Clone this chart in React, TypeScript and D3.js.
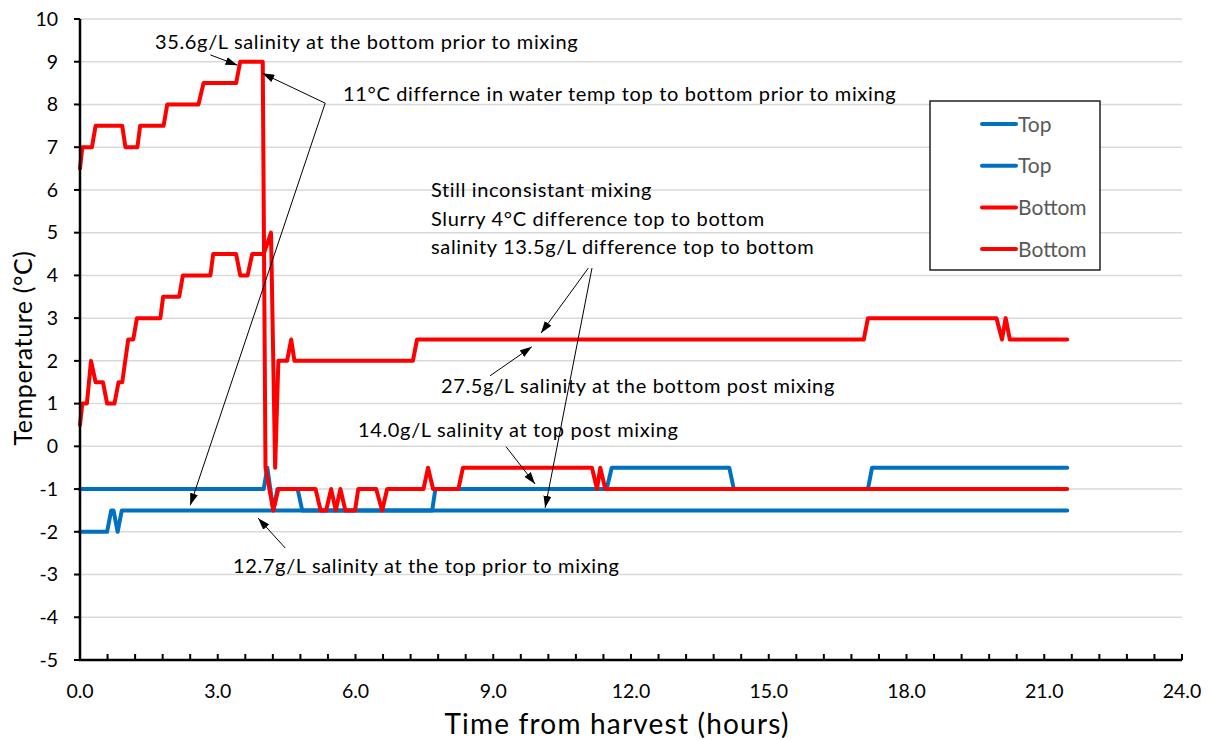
import React from "react";
import * as d3 from "d3";

// Temperature readings (hours from harvest, °C)
const topA: [number, number][] = [
  [0, -1], [4.0, -1], [4.08, -0.5], [4.21, -1.5], [4.3, -1], [4.74, -1], [4.84, -1.5],
  [7.67, -1.5], [7.74, -1], [11.47, -1], [11.58, -0.5], [14.14, -0.5], [14.24, -1],
  [17.16, -1], [17.25, -0.5], [21.5, -0.5],
];
const topB: [number, number][] = [
  [0, -2], [0.59, -2], [0.68, -1.5], [0.73, -1.5], [0.82, -2], [0.91, -1.5], [21.5, -1.5],
];
const bottomA: [number, number][] = [
  [0, 6.5], [0.05, 7], [0.26, 7], [0.34, 7.5], [0.92, 7.5], [0.99, 7], [1.25, 7], [1.31, 7.5],
  [1.82, 7.5], [1.9, 8], [2.58, 8], [2.69, 8.5], [3.4, 8.5], [3.49, 9], [3.98, 9],
  [4.04, -0.5], [4.21, -1.5], [4.32, -1], [5.13, -1], [5.24, -1.5], [5.36, -1.5],
  [5.47, -1], [5.57, -1.5], [5.67, -1], [5.78, -1.5], [5.99, -1.5], [6.06, -1],
  [6.45, -1], [6.58, -1.5], [6.69, -1], [7.48, -1], [7.58, -0.5], [7.69, -1], [8.24, -1],
  [8.34, -0.5], [11.15, -0.5], [11.26, -1], [11.33, -0.5], [11.44, -1], [21.5, -1],
];
const bottomB: [number, number][] = [
  [0, 0.5], [0.05, 1], [0.15, 1], [0.24, 2], [0.34, 1.5], [0.5, 1.5], [0.59, 1], [0.75, 1],
  [0.84, 1.5], [0.92, 1.5], [1.05, 2.5], [1.16, 2.5], [1.24, 3], [1.75, 3], [1.81, 3.5],
  [2.16, 3.5], [2.24, 4], [2.84, 4], [2.9, 4.5], [3.4, 4.5], [3.49, 4], [3.65, 4],
  [3.75, 4.5], [4.0, 4.5], [4.16, 5], [4.25, -0.5], [4.32, 2], [4.51, 2], [4.6, 2.5],
  [4.67, 2], [7.25, 2], [7.34, 2.5], [17.07, 2.5], [17.16, 3], [19.96, 3], [20.08, 2.5],
  [20.16, 3], [20.25, 2.5], [21.5, 2.5],
];

const seriesNames = ["Top", "Top", "Bottom", "Bottom"];
const seriesData = [topA, topB, bottomA, bottomB];
const seriesColors = ["#0070C0", "#0070C0", "#FF0000", "#FF0000"];

const xTicks = [0, 3, 6, 9, 12, 15, 18, 21, 24];
const yTicks = [-5, -4, -3, -2, -1, 0, 1, 2, 3, 4, 5, 6, 7, 8, 9, 10];

// Callout texts and the points they refer to (tail -> head, in hours / °C)
const noteLines = [
  ["35.6g/L salinity at the bottom prior to mixing"],
  ["11°C differnce in water temp top to bottom prior to mixing"],
  ["Still inconsistant mixing", "Slurry 4°C difference top to bottom", "salinity 13.5g/L difference top to bottom"],
  ["27.5g/L salinity at the bottom post mixing"],
  ["14.0g/L salinity at top post mixing"],
  ["12.7g/L salinity at the top prior to mixing"],
];
const noteArrows: [number, number, number, number][][] = [
  [[2.84, 9.16, 3.43, 8.92]],
  [[5.34, 8.03, 3.97, 8.73], [5.34, 8.03, 2.4, -1.38]],
  [[11.07, 4.17, 10.04, 2.65], [11.15, 4.17, 10.13, -1.44]],
  [[8.93, 1.65, 9.84, 2.33]],
  [[9.28, -0.01, 9.91, -0.88]],
  [[4.47, -2.38, 3.88, -1.68]],
];

const W = 1208;
const H = 740;
const left = 80;
const right = 1182;
const top = 19;
const bottom = 660;
const FONT = "Lato, 'Open Sans', sans-serif";

// label anchors (px)
const noteLayout = [
  { x: 155, y: 49 },
  { x: 343, y: 101 },
  { x: 431, y: 197, dy: 28.5 },
  { x: 441, y: 393 },
  { x: 358, y: 437 },
  { x: 233, y: 573 },
];

export default function App() {
  const x = d3.scaleLinear().domain([0, 24]).range([left, right]);
  const y = d3.scaleLinear().domain([-5, 10]).range([bottom, top]);
  const line = d3
    .line<[number, number]>()
    .x((d) => x(d[0]))
    .y((d) => y(d[1]));
  const minorTicks = d3.range(0, 24.001, 0.6);

  return (
    <svg
      width={W}
      height={H}
      style={{ position: "absolute", left: 0, top: 0, background: "#fff" }}
      fontFamily={FONT}
    >
      <defs>
        <marker
          id="arrowHead"
          viewBox="0 0 12 8"
          refX={12}
          refY={4}
          markerWidth={12}
          markerHeight={8}
          markerUnits="userSpaceOnUse"
          orient="auto"
        >
          <path d="M0,0 L12,4 L0,8 Z" fill="#000" />
        </marker>
      </defs>
      <rect x={0} y={0} width={W} height={H} fill="#fff" />

      {/* gridlines */}
      {yTicks.map((t) => (
        <line key={"g" + t} x1={left} x2={right} y1={y(t)} y2={y(t)} stroke="#D9D9D9" strokeWidth={1.5} />
      ))}

      {/* series */}
      {seriesData.map((s, i) => (
        <path
          key={"s" + i}
          d={line(s) || ""}
          fill="none"
          stroke={seriesColors[i]}
          strokeWidth={4}
          strokeLinejoin="round"
          strokeLinecap="round"
        />
      ))}

      {/* axes */}
      <line x1={left} x2={left} y1={top} y2={bottom + 1} stroke="#000" strokeWidth={2.5} />
      <line x1={left - 1} x2={right} y1={bottom} y2={bottom} stroke="#000" strokeWidth={2.5} />
      {yTicks.map((t) => (
        <g key={"yt" + t}>
          <line x1={left - 6} x2={left} y1={y(t)} y2={y(t)} stroke="#000" strokeWidth={2} />
          <text x={58} y={y(t)} dy="0.35em" textAnchor="end" fontSize={19.5} fill="#000">
            {t}
          </text>
        </g>
      ))}
      {minorTicks.map((t, i) => (
        <line key={"xt" + i} x1={x(t)} x2={x(t)} y1={bottom} y2={bottom - 6} stroke="#000" strokeWidth={2} />
      ))}
      {xTicks.map((t) => (
        <text key={"xl" + t} x={x(t)} y={698} textAnchor="middle" fontSize={19.5} fill="#000">
          {t.toFixed(1)}
        </text>
      ))}

      {/* axis titles */}
      <text x={617} y={734} textAnchor="middle" fontSize={28} letterSpacing={1.2} fill="#000">
        Time from harvest (hours)
      </text>
      <text
        transform={`translate(32,348) rotate(-90)`}
        textAnchor="middle"
        fontSize={25}
        letterSpacing={0.6}
        fill="#000"
      >
        Temperature (°C)
      </text>

      {/* legend */}
      <rect x={930} y={101} width={170} height={169} fill="#fff" stroke="#222" strokeWidth={1.5} />
      {seriesNames.map((n, i) => (
        <g key={"lg" + i}>
          <line
            x1={982}
            x2={1016}
            y1={124 + i * 41.7}
            y2={124 + i * 41.7}
            stroke={seriesColors[i]}
            strokeWidth={4}
            strokeLinecap="round"
          />
          <text x={1018} y={124 + i * 41.7} dy="0.36em" fontSize={21} fill="#595959">
            {n}
          </text>
        </g>
      ))}

      {/* callouts */}
      {noteArrows.map((arr, i) =>
        arr.map((a, j) => (
          <line
            key={"na" + i + "-" + j}
            x1={x(a[0])}
            y1={y(a[1])}
            x2={x(a[2])}
            y2={y(a[3])}
            stroke="#000"
            strokeWidth={1}
            markerEnd="url(#arrowHead)"
          />
        ))
      )}
      {noteLines.map((lines, i) => (
        <text key={"nt" + i} fontSize={20} letterSpacing={0.65} fill="#000">
          {lines.map((l, k) => (
            <tspan key={k} x={noteLayout[i].x} y={noteLayout[i].y + k * (noteLayout[i].dy || 0)}>
              {l}
            </tspan>
          ))}
        </text>
      ))}
    </svg>
  );
}
